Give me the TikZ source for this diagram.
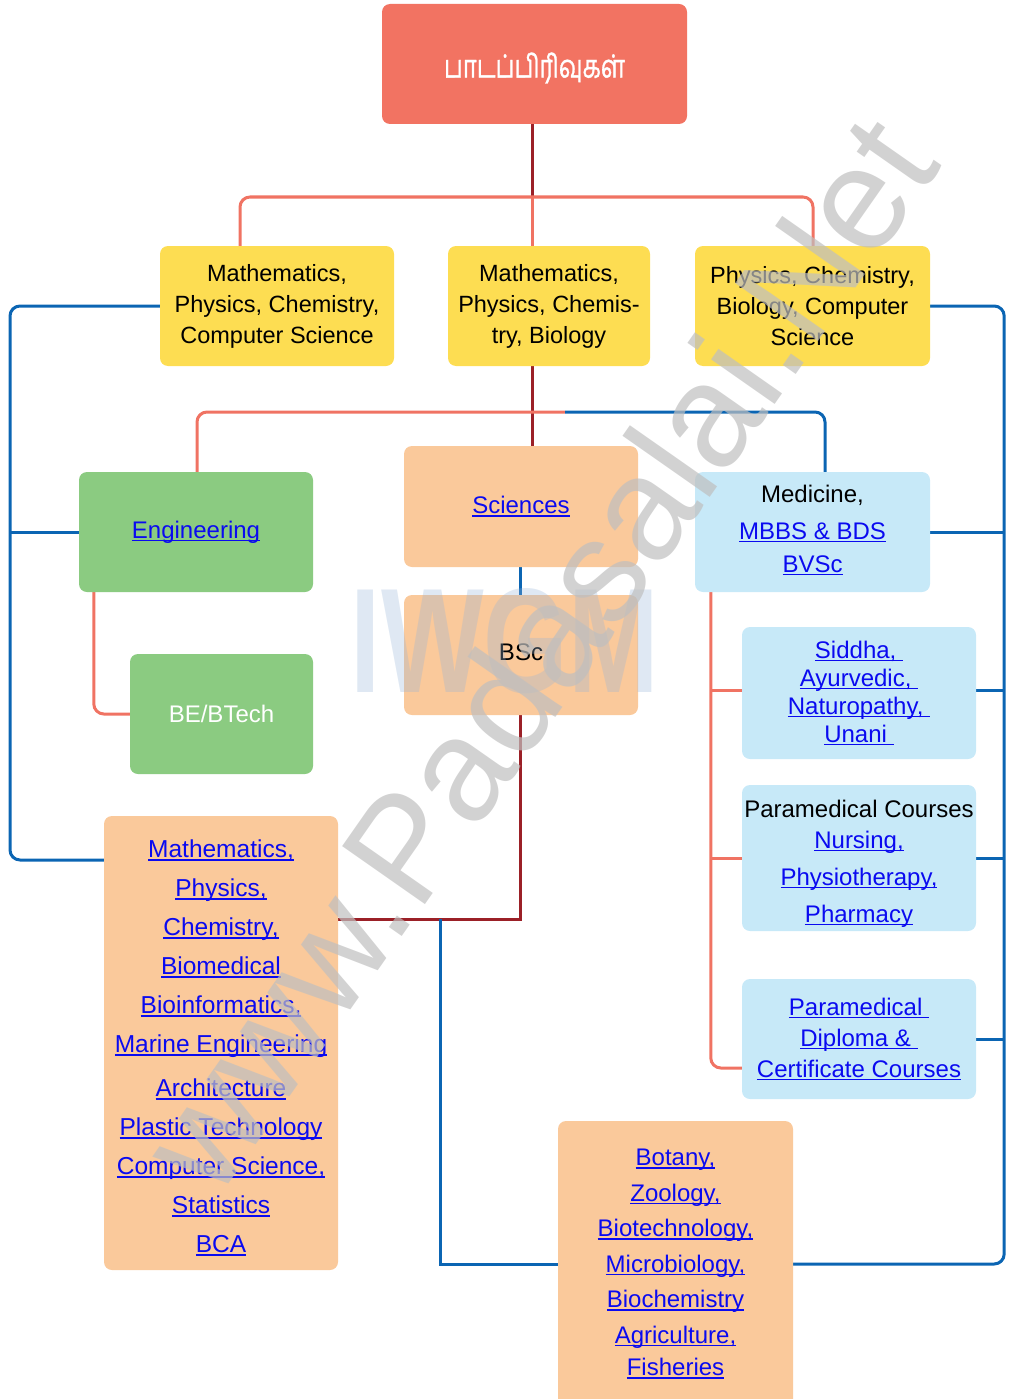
\documentclass[tikz,border=0pt]{standalone}
\usepackage{fontspec}
\usepackage{graphicx}
\setmainfont{Liberation Sans}
\newfontfamily\tamilfont[Script=Tamil,FakeBold=1.2]{Hind Madurai}
\usetikzlibrary{backgrounds}
\definecolor{rootc}{HTML}{F27362}
\definecolor{yelc}{HTML}{FDDD52}
\definecolor{grnc}{HTML}{8BCB81}
\definecolor{orc}{HTML}{FAC99B}
\definecolor{lbc}{HTML}{C7E9F8}
\definecolor{linkc}{HTML}{0A0AF0}
\definecolor{blul}{HTML}{0B65B3}
\definecolor{dredl}{HTML}{9B2027}
\definecolor{sall}{HTML}{F07363}
\definecolor{wmblue}{RGB}{150,180,215}
\newsavebox\ulbox
\newcommand\lnk[1]{{\color{linkc}\sbox\ulbox{#1}\rlap{\rule[-3pt]{\wd\ulbox}{1.5pt}}\usebox\ulbox}}
\begin{document}
\begin{tikzpicture}[x=1pt,y=-1pt,
  box/.style={rectangle,rounded corners=8pt,inner sep=0pt,align=center},
  fy/.style={font=\fontsize{23.5}{31}\selectfont},
  fn/.style={font=\fontsize{24}{36}\selectfont},
  conn/.style={line width=3pt},
  dred/.style={conn,draw=dredl},
  sal/.style={conn,draw=sall},
  blu/.style={conn,draw=blul},
  rc/.style={rounded corners=10pt}]
\useasboundingbox (0,0) rectangle (1009,1399);
% nodes
\node[box,fill=rootc,minimum width=305pt,minimum height=120pt,text=white,font=\tamilfont\fontsize{31}{36}\selectfont] (root) at (534.5,64) {\raisebox{-4pt}[\height][\depth]{\scalebox{0.77}[1.03]{பாடப்பிரிவுகள்}}};
\node[box,fill=yelc,fy,minimum width=234pt,minimum height=120pt] (y1) at (277,306) {Mathematics,\\Physics, Chemistry,\\Computer Science};
\node[box,fill=yelc,fy,minimum width=202pt,minimum height=120pt] (y2) at (549,306) {Mathematics,\\Physics, Chemis-\\try, Biology};
\node[box,fill=yelc,fy,minimum width=235pt,minimum height=120pt] (y3) at (812.5,306) {Physics, Chemistry,\\Biology, Computer\\Science};
\node[box,fill=grnc,fn,minimum width=234pt,minimum height=120pt] (eng) at (196,532) {\lnk{Engineering}};
\node[box,fill=grnc,fn,minimum width=183pt,minimum height=120pt,text=white] (be) at (221.5,714) {BE/BTech};
\node[box,fill=orc,fn,minimum width=234pt,minimum height=121pt] (sci) at (521,506.5) {\lnk{Sciences}};
\node[box,fill=orc,fn,minimum width=234pt,minimum height=120pt] (bsc) at (521,655) {BSc\rule[-6pt]{0pt}{6pt}};
\node[box,fill=lbc,font=\fontsize{24}{36}\selectfont,minimum width=235pt,minimum height=120pt] (med) at (812.5,532) {Medicine,\\[1pt]\lnk{MBBS \& BDS}\\[-3pt]\lnk{BVSc}\rule[-7pt]{0pt}{7pt}};
\node[box,fill=lbc,font=\fontsize{24}{28}\selectfont,minimum width=234pt,minimum height=132pt] (sid) at (859,693) {\lnk{Siddha,~}\\\lnk{Ayurvedic,~}\\\lnk{Naturopathy,~}\\\lnk{Unani~}};
\node[box,fill=lbc,font=\fontsize{24}{37}\selectfont,minimum width=234pt,minimum height=146pt] (para) at (859,858) {\rule{0pt}{28pt}Paramedical Courses\\[-6pt]\lnk{Nursing,}\\\lnk{Physiotherapy,}\\\lnk{Pharmacy}};
\node[box,fill=lbc,font=\fontsize{24}{31}\selectfont,minimum width=234pt,minimum height=120pt] (dip) at (859,1039) {\lnk{Paramedical~}\\\lnk{Diploma \&~}\\\lnk{Certificate Courses}};
\node[box,fill=orc,font=\fontsize{24.5}{39}\selectfont,minimum width=234pt,minimum height=454pt] (lor) at (221,1043) {\rule{0pt}{27pt}\lnk{Mathematics,}\\\lnk{Physics,}\\\lnk{Chemistry,}\\\lnk{Biomedical}\\\lnk{Bioinformatics,}\\\lnk{Marine Engineering}\\[5pt]\lnk{Architecture}\\\lnk{Plastic Technology}\\\lnk{Computer Science,}\\\lnk{Statistics}\\\lnk{BCA}};
\node[box,fill=orc,font=\fontsize{24}{35.5}\selectfont,minimum width=235pt,minimum height=286pt] (bot) at (675.5,1264) {\lnk{Botany,}\\\lnk{Zoology,}\\\lnk{Biotechnology,}\\\lnk{Microbiology,}\\\lnk{Biochemistry}\\\lnk{Agriculture,}\\[-3pt]\lnk{Fisheries}};
% bend coordinates
\coordinate (t) at (532,197);
\coordinate (u) at (532,412);
\coordinate (v) at (565,412);
\coordinate (w) at (520,919);
\coordinate (w2) at (440,919);
\coordinate (r) at (1004,600);
\coordinate (lx) at (10,600);
\coordinate (mx) at (711,600);
\begin{pgfonlayer}{background}
\draw[dred] (t |- root.south) -- (t);
\draw[sal,rc] ([xshift=-37pt]y1.north) |- (t) -| ([xshift=0.5pt]y3.north);
\draw[sal] (t) -- (t |- y2.north);
\draw[dred] (t |- y2.south) -- (t |- sci.north);
\draw[sal,rc] (v) -- (u) -| ([xshift=1pt]eng.north);
\draw[blu,rc] (v) -| ([xshift=12.5pt]med.north);
\draw[blu] ([xshift=-1pt]sci.south) -- ([xshift=-1pt]bsc.north);
\draw[dred] ([xshift=-1pt]bsc.south) -- (w) -- (w -| lor.east);
\draw[blu] (w2) |- (bot.west);
\draw[blu,rc] (bot.east) -| ([xshift=74pt]y3.east) -- (y3.east);
\draw[blu] (med.east) -- (med.east -| r);
\draw[blu] ([yshift=3pt]sid.east) -- ([yshift=3pt]sid.east -| r);
\draw[blu] (para.east) -- (para.east -| r);
\draw[blu] (dip.east) -- (dip.east -| r);
\draw[blu,rc] (y1.west) -| (lx) |- ([yshift=183pt]lor.west);
\draw[blu] (eng.west) -- (eng.west -| lx);
\draw[sal,rc] ([xshift=15pt]eng.south west) |- (be.west);
\draw[sal,rc] ([xshift=16pt]med.south west) |- ([yshift=-29pt]dip.west);
\draw[sal] ([yshift=3pt]sid.west) -- ([yshift=3pt]sid.west -| mx);
\draw[sal] (para.west) -- (para.west -| mx);
\end{pgfonlayer}
% watermarks
\node[text=wmblue,text opacity=0.3,font=\bfseries\fontsize{149}{149}\selectfont,inner sep=0pt] (wm2) at (505,641) {\scalebox{0.73}[1]{IWGM}};
\node[text=black!25,text opacity=0.7,rotate=55,font=\fontsize{147}{147}\selectfont,inner sep=0pt] (wm) at (537,653) {www.Padasalai.Net};
\end{tikzpicture}
\end{document}
